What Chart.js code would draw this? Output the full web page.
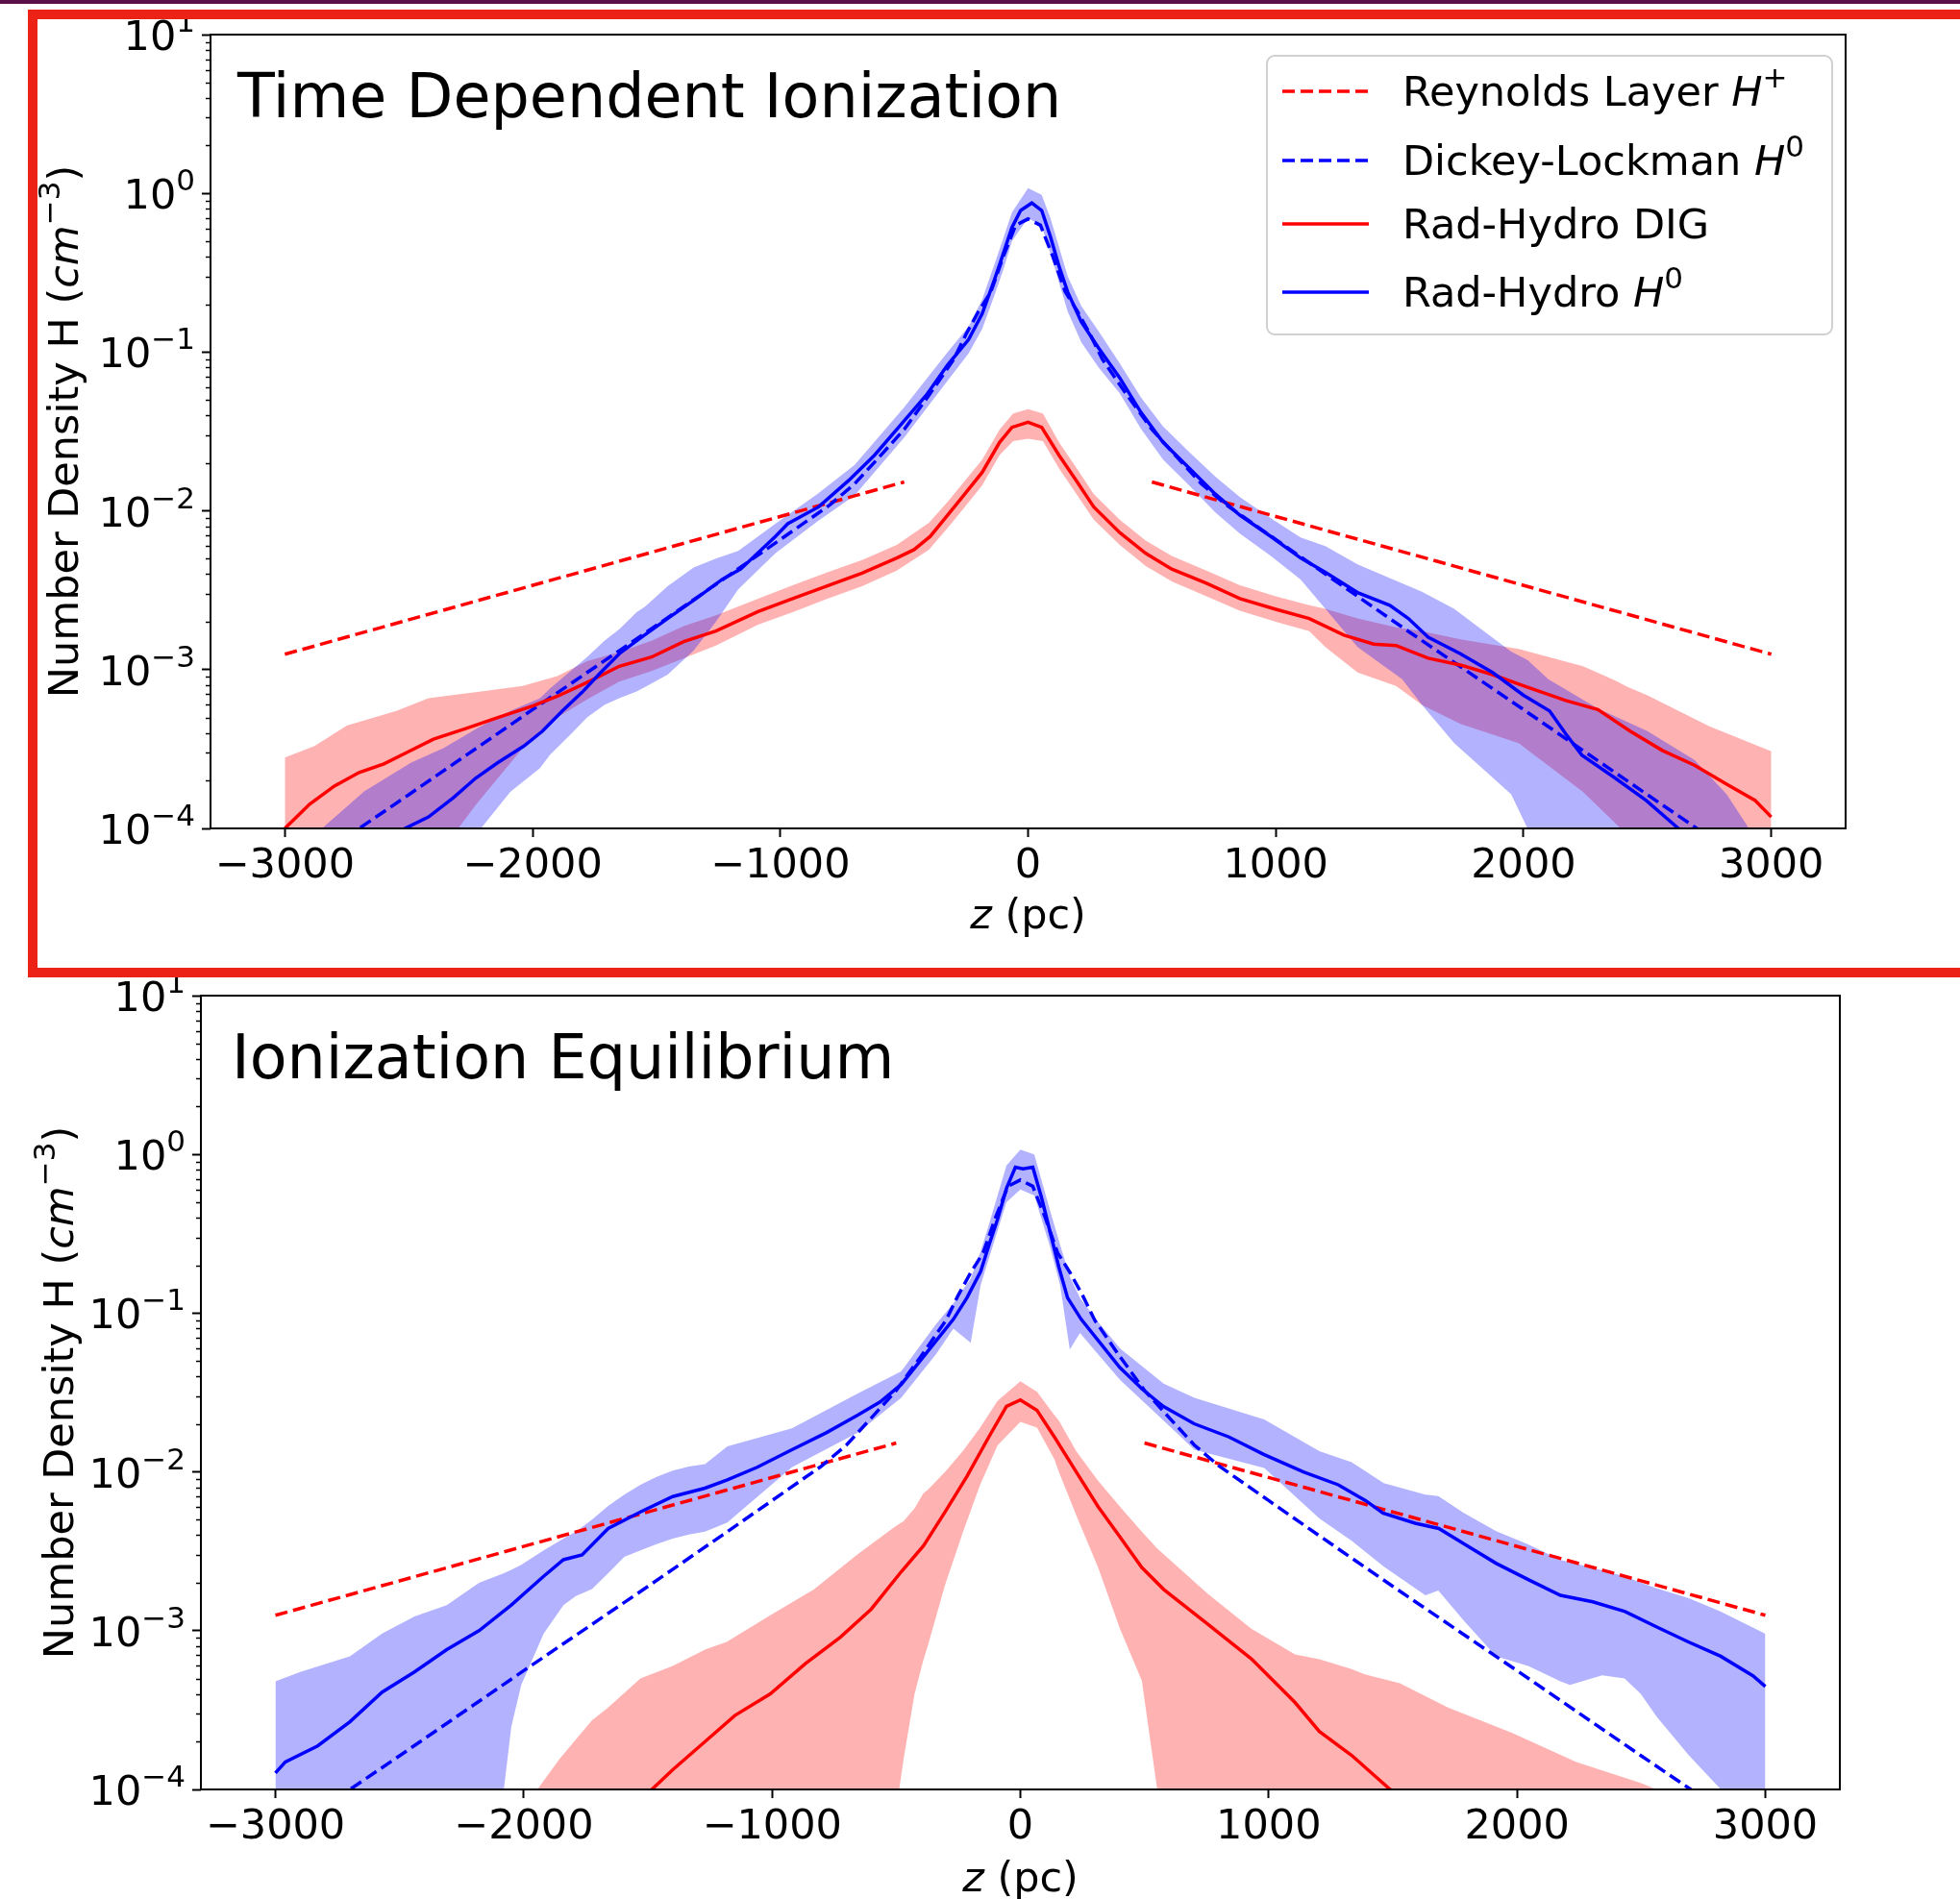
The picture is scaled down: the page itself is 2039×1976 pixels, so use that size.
<!DOCTYPE html>
<html lang="en">
<head>
<meta charset="UTF-8">
<title>Number Density H profiles</title>
<script src="https://cdn.jsdelivr.net/npm/chart.js"></script>
<style>
    html, body {
        margin: 0;
        padding: 0;
        background: #fff;
        overflow: hidden;
    }
    body {
        position: relative;
        width: 2039px;
        height: 1976px;
    }
    canvas {
        position: absolute;
        left: 0;
    }
    #tdChart { top: 0; }
    #ieChart { top: 1000px; }
    .top-bar {
        position: absolute;
        left: 0;
        top: 0;
        width: 2039px;
        height: 4px;
        background: #5a1147;
    }
    .highlight {
        position: absolute;
        left: 29px;
        top: 10px;
        width: 2100px;
        height: 987px;
        border: 10px solid #ec2216;
    }
</style>
</head>
<body>
<canvas id="tdChart" width="2039" height="1000"></canvas>
<canvas id="ieChart" width="2039" height="976"></canvas>
<div class="top-bar"></div>
<div class="highlight"></div>
<script>
Chart.defaults.font.family = '"DejaVu Sans", sans-serif';

// axis ticks
const xTicks = [-3000, -2000, -1000, 0, 1000, 2000, 3000];
const yTicks = [1e-4, 1e-3, 1e-2, 1e-1, 1, 10];
const yTickSup = ['\u22124', '\u22123', '\u22122', '\u22121', '0', '1'];

// reference profiles (same in both panels)
const reyLeftZ = [-3000, -500];
const reyLeft = [1.25e-3, 0.0152];
const reyRightZ = [500, 3000];
const reyRight = [0.0152, 1.25e-3];

const dlZ = [-3000, -2500, -2000, -1500, -1200, -1000, -800, -700, -600, -500, -400, -300, -250, -200, -150, -100, -50,
    0, 50, 100, 150, 200, 250, 300, 400, 500, 600, 700, 800, 1000, 1200, 1500, 2000, 2500, 3000];
const dl = [4.8e-5, 1.63e-4, 5.6e-4, 1.9e-3, 4.0e-3, 6.6e-3, 0.0109, 0.0148, 0.0219, 0.0326, 0.0535, 0.09, 0.13, 0.18, 0.24, 0.40, 0.63,
    0.69, 0.63, 0.40, 0.24, 0.18, 0.13, 0.09, 0.0535, 0.0326, 0.0219, 0.0148, 0.0109, 6.6e-3, 4.0e-3, 1.9e-3, 5.6e-4, 1.63e-4, 4.8e-5];

// ---- Time Dependent Ionization ----
const tdRedZ = [-3000, -2900, -2800, -2700, -2600, -2500, -2400, -2270, -2140, -2000, -1900, -1780, -1650, -1520, -1390,
    -1260, -1090, -950, -810, -670, -530, -460, -395, -325, -255, -185, -115, -65, 0, 55, 125, 195, 265, 370, 475,
    580, 720, 855, 1000, 1135, 1275, 1395, 1485, 1615, 1745, 1875, 2000, 2170, 2300, 2430, 2560, 2690, 2820, 2935, 3000];
const tdRed = [1.0e-4, 1.42e-4, 1.85e-4, 2.25e-4, 2.55e-4, 3.05e-4, 3.65e-4, 4.25e-4, 5.0e-4, 5.9e-4, 6.8e-4, 8.3e-4, 1.05e-3, 1.2e-3, 1.5e-3,
    1.75e-3, 2.32e-3, 2.8e-3, 3.37e-3, 4.06e-3, 5.05e-3, 5.7e-3, 6.9e-3, 9.4e-3, 0.0128, 0.0175, 0.027, 0.0336, 0.0362, 0.0336, 0.0224, 0.0155, 0.0106, 7.3e-3, 5.4e-3,
    4.3e-3, 3.5e-3, 2.8e-3, 2.4e-3, 2.1e-3, 1.65e-3, 1.45e-3, 1.42e-3, 1.18e-3, 1.07e-3, 9.3e-4, 7.9e-4, 6.4e-4, 5.6e-4, 4.1e-4, 3.1e-4, 2.5e-4, 1.9e-4, 1.5e-4, 1.18e-4];

const tdRedBandZ = [-3000, -2880, -2750, -2550, -2420, -2300, -2230, -2040, -1900, -1780, -1650, -1520, -1390, -1260, -1090,
    -950, -810, -670, -530, -400, -325, -255, -185, -115, -60, 0, 60, 125, 195, 265, 370, 475, 580, 720, 855,
    1000, 1135, 1200, 1330, 1485, 1590, 1745, 1980, 2240, 2365, 2420, 2500, 2750, 3000];
const tdRedHi = [2.8e-4, 3.3e-4, 4.45e-4, 5.5e-4, 6.6e-4, 7.0e-4, 7.2e-4, 7.9e-4, 9.1e-4, 1.13e-3, 1.29e-3, 1.52e-3, 1.88e-3, 2.2e-3, 2.8e-3,
    3.4e-3, 4.1e-3, 4.9e-3, 6.1e-3, 8.4e-3, 0.0114, 0.0155, 0.021, 0.0325, 0.041, 0.0437, 0.041, 0.027, 0.0187, 0.0128, 8.8e-3, 6.5e-3, 5.2e-3, 4.2e-3, 3.4e-3,
    2.9e-3, 2.55e-3, 2.42e-3, 2.1e-3, 1.85e-3, 1.75e-3, 1.55e-3, 1.35e-3, 1.05e-3, 8.6e-4, 7.8e-4, 6.9e-4, 4.4e-4, 3.06e-4];
const tdRedLo = [5e-5, 5e-5, 6e-5, 7e-5, 8.5e-5, 1.0e-4, 1.4e-4, 3.2e-4, 5.0e-4, 6.5e-4, 8.4e-4, 9.8e-4, 1.18e-3, 1.42e-3, 1.92e-3,
    2.3e-3, 2.8e-3, 3.35e-3, 4.2e-3, 5.7e-3, 7.8e-3, 0.0106, 0.0145, 0.0225, 0.0275, 0.0285, 0.0275, 0.0185, 0.0128, 8.8e-3, 6.1e-3, 4.5e-3, 3.6e-3, 2.9e-3, 2.35e-3,
    2.0e-3, 1.75e-3, 1.39e-3, 9.6e-4, 7.9e-4, 6.0e-4, 4.55e-4, 3.45e-4, 1.7e-4, 1.1e-4, 9e-5, 7e-5, 5e-5, 4e-5];

const tdBlueZ = [-3000, -2600, -2515, -2420, -2320, -2230, -2140, -2035, -1960, -1880, -1800, -1725, -1650, -1570, -1455,
    -1340, -1235, -1160, -1020, -970, -845, -725, -620, -500, -410, -325, -240, -185, -135, -100, -65, -30, 15, 55, 90,
    125, 160, 215, 285, 370, 455, 545, 650, 755, 855, 980, 1100, 1200, 1330, 1460, 1535, 1615, 1745, 1875, 2000,
    2105, 2170, 2235, 2365, 2495, 2625, 3000];
const tdBlue = [3e-5, 8e-5, 1.0e-4, 1.18e-4, 1.56e-4, 2.07e-4, 2.6e-4, 3.3e-4, 4.1e-4, 5.5e-4, 7.2e-4, 9.6e-4, 1.26e-3, 1.56e-3, 2.1e-3,
    2.8e-3, 3.7e-3, 4.3e-3, 6.9e-3, 8.3e-3, 0.0106, 0.0155, 0.0224, 0.0369, 0.0537, 0.083, 0.12, 0.175, 0.288, 0.418, 0.61, 0.78, 0.87, 0.78, 0.536,
    0.347, 0.239, 0.155, 0.106, 0.0689, 0.0419, 0.027, 0.0186, 0.0128, 9.4e-3, 6.9e-3, 5.05e-3, 4.1e-3, 3.06e-3, 2.54e-3, 2.1e-3, 1.6e-3, 1.26e-3, 9.6e-4, 6.9e-4,
    5.5e-4, 3.95e-4, 2.9e-4, 2.1e-4, 1.5e-4, 1.0e-4, 4e-5];

const tdBlueBandZ = [-3000, -2850, -2680, -2490, -2360, -2220, -2090, -1970, -1930, -1840, -1780, -1710, -1650, -1580, -1545,
    -1455, -1350, -1260, -1170, -1020, -850, -700, -500, -325, -240, -185, -135, -100, -65, 0, 55, 90, 160, 215, 285,
    370, 455, 545, 650, 755, 855, 980, 1100, 1200, 1330, 1510, 1590, 1720, 1850, 1950, 2016, 2100, 2300, 2500, 2690,
    2820, 2910, 3000];
const tdBlueHi = [5e-5, 1.0e-4, 1.71e-4, 2.6e-4, 3.2e-4, 4.3e-4, 5.5e-4, 6.6e-4, 7.6e-4, 1.0e-3, 1.2e-3, 1.52e-3, 1.8e-3, 2.3e-3, 2.5e-3,
    3.35e-3, 4.4e-3, 5.0e-3, 5.6e-3, 8.3e-3, 0.0128, 0.0195, 0.045, 0.1, 0.145, 0.215, 0.36, 0.52, 0.76, 1.08, 0.98, 0.7, 0.3, 0.195, 0.135,
    0.085, 0.052, 0.034, 0.0235, 0.0165, 0.0122, 9e-3, 6.8e-3, 6.0e-3, 4.6e-3, 3.5e-3, 3.1e-3, 2.42e-3, 1.7e-3, 1.3e-3, 1.15e-3, 8.7e-4, 5.7e-4, 4.1e-4, 2.7e-4,
    1.64e-4, 1.0e-4, 6e-5];
const tdBlueLo = [3e-5, 3e-5, 3e-5, 4e-5, 5e-5, 9.5e-5, 1.7e-4, 2.4e-4, 2.9e-4, 4e-4, 5e-4, 6e-4, 6.6e-4, 7.3e-4, 7.8e-4,
    9.3e-4, 1.32e-3, 2.0e-3, 3.2e-3, 5.4e-3, 8.6e-3, 0.0125, 0.029, 0.066, 0.098, 0.14, 0.23, 0.33, 0.5, 0.7, 0.62, 0.42, 0.18, 0.115, 0.08,
    0.055, 0.033, 0.021, 0.0145, 0.0098, 7.2e-3, 5.2e-3, 3.7e-3, 2.42e-3, 1.39e-3, 8.7e-4, 6.0e-4, 3.44e-4, 2.27e-4, 1.64e-4, 1.0e-4, 7e-5, 4e-5, 3e-5, 3e-5,
    3e-5, 3e-5, 3e-5];

// ---- Ionization Equilibrium ----
const ieRedZ = [-1800, -1484, -1400, -1290, -1150, -1007, -866, -725, -600, -480, -390, -300, -215, -127, -56,
    0, 67, 137, 225, 313, 401, 489, 577, 754, 930, 1106, 1204, 1334, 1489, 1800];
const ieRed = [4.5e-5, 1.0e-4, 1.33e-4, 1.88e-4, 2.92e-4, 4.0e-4, 6.2e-4, 9.1e-4, 1.37e-3, 2.35e-3, 3.43e-3, 5.7e-3, 9.4e-3, 0.0166, 0.0259,
    0.0284, 0.0244, 0.0166, 0.0100, 6.05e-3, 3.89e-3, 2.5e-3, 1.82e-3, 1.1e-3, 6.65e-4, 3.53e-4, 2.32e-4, 1.64e-4, 1.0e-4, 4.5e-5];

const ieRedBandZ = [-2100, -1945, -1855, -1725, -1660, -1530, -1400, -1270, -1183, -1007, -831, -655, -514, -488, -470,
    -426, -391, -373, -303, -232, -162, -92, 0, 67, 137, 155, 225, 313, 401, 489,
    551, 577, 754, 930, 1106, 1204, 1334, 1387, 1528, 1722, 1981, 2239, 2498, 2563, 2700];
const ieRedHi = [5e-5, 1.0e-4, 1.56e-4, 2.73e-4, 3.28e-4, 5.0e-4, 6.0e-4, 7.6e-4, 8.5e-4, 1.25e-3, 1.82e-3, 3.03e-3, 4.41e-3, 4.7e-3, 4.9e-3,
    5.9e-3, 7.31e-3, 7.7e-3, 0.0100, 0.0135, 0.019, 0.028, 0.0373, 0.032, 0.0228, 0.021, 0.0135, 8.8e-3, 6.05e-3, 4.2e-3,
    3.3e-3, 3.03e-3, 1.71e-3, 1.03e-3, 7.08e-4, 6.6e-4, 5.74e-4, 5.3e-4, 4.66e-4, 3.28e-4, 2.27e-4, 1.49e-4, 1.1e-4, 1.0e-4, 7e-5];
const ieRedLo = [4e-5, 4e-5, 4e-5, 4e-5, 4e-5, 4e-5, 4e-5, 4e-5, 4e-5, 4e-5, 4e-5, 4e-5, 4e-5, 1.0e-4, 1.56e-4,
    4.0e-4, 6.5e-4, 8.0e-4, 1.95e-3, 4.14e-3, 8.3e-3, 0.0147, 0.0207, 0.019, 0.012, 0.0100, 5.33e-3, 2.5e-3, 1.03e-3, 4.84e-4,
    1.0e-4, 4e-5, 4e-5, 4e-5, 4e-5, 4e-5, 4e-5, 4e-5, 4e-5, 4e-5, 4e-5, 4e-5, 4e-5, 4e-5, 4e-5];

const ieBlueZ = [-3000, -2960, -2830, -2700, -2570, -2440, -2310, -2180, -2050, -1920, -1840, -1765, -1660, -1530, -1400,
    -1270, -1180, -1060, -920, -780, -655, -565, -480, -410, -340, -270, -215, -160, -127, -92,
    -56, -20, 10, 50, 85, 120, 155, 190, 245, 315, 400, 490, 575, 700, 840,
    980, 1140, 1280, 1390, 1460, 1590, 1685, 1790, 1915, 2045, 2175, 2305, 2435, 2565, 2690, 2820, 2950, 3000];
const ieBlue = [1.27e-4, 1.49e-4, 1.88e-4, 2.67e-4, 4.1e-4, 5.5e-4, 7.6e-4, 1.0e-3, 1.45e-3, 2.2e-3, 2.8e-3, 3.0e-3, 4.4e-3, 5.6e-3, 7.0e-3,
    7.9e-3, 8.9e-3, 0.0107, 0.0138, 0.0177, 0.0228, 0.0276, 0.0355, 0.0486, 0.0667, 0.0914, 0.125, 0.183, 0.267, 0.39,
    0.61, 0.83, 0.81, 0.83, 0.535, 0.323, 0.195, 0.125, 0.0914, 0.0667, 0.0456, 0.0333, 0.0259, 0.0201, 0.0166,
    0.0129, 0.0100, 8.3e-3, 6.6e-3, 5.5e-3, 4.75e-3, 4.4e-3, 3.5e-3, 2.66e-3, 2.1e-3, 1.67e-3, 1.52e-3, 1.32e-3, 1.05e-3, 8.5e-4, 6.9e-4, 5.2e-4, 4.45e-4];

const ieBlueBandZ = [-3000, -2900, -2700, -2570, -2440, -2310, -2180, -2080, -2050, -2010, -1920, -1840, -1790, -1725, -1660,
    -1595, -1530, -1465, -1400, -1335, -1270, -1180, -920, -655, -480, -340, -270, -200, -160, -127,
    -56, 0, 56, 120, 160, 199, 240, 313, 401, 577, 701, 982, 1204, 1334, 1463,
    1631, 1683, 1787, 1916, 2045, 2175, 2213, 2343, 2433, 2498, 2563, 2692, 2821, 3000];
const ieBlueHi = [4.8e-4, 5.5e-4, 6.9e-4, 9.6e-4, 1.23e-3, 1.45e-3, 2.0e-3, 2.3e-3, 2.42e-3, 2.6e-3, 3.2e-3, 3.8e-3, 4.2e-3, 5.0e-3, 6.1e-3,
    7.2e-3, 8.3e-3, 9.3e-3, 0.0102, 0.0108, 0.0112, 0.0145, 0.0188, 0.0312, 0.043, 0.085, 0.115, 0.165, 0.245, 0.36,
    0.85, 1.07, 1.0, 0.44, 0.27, 0.17, 0.125, 0.088, 0.06, 0.036, 0.0293, 0.0214, 0.0135, 0.0115, 8.5e-3,
    7.2e-3, 7.05e-3, 5.5e-3, 4.23e-3, 3.5e-3, 2.79e-3, 2.7e-3, 2.4e-3, 2.2e-3, 2.01e-3, 1.85e-3, 1.6e-3, 1.32e-3, 9.56e-4];
const ieBlueLo = [5e-5, 5e-5, 5e-5, 5e-5, 5e-5, 5e-5, 5e-5, 1.0e-4, 2.48e-4, 4.55e-4, 9.56e-4, 1.45e-3, 1.65e-3, 1.83e-3, 2.3e-3,
    2.92e-3, 3.2e-3, 3.51e-3, 3.8e-3, 4.04e-3, 4.2e-3, 4.8e-3, 0.0107, 0.0177, 0.0293, 0.055, 0.08, 0.065, 0.15, 0.22,
    0.5, 0.6, 0.55, 0.26, 0.15, 0.059, 0.075, 0.055, 0.038, 0.021, 0.0138, 0.0106, 5.1e-3, 3.68e-3, 2.54e-3,
    1.67e-3, 1.79e-3, 1.15e-3, 6.9e-4, 6.0e-4, 4.8e-4, 4.55e-4, 5.23e-4, 5.0e-4, 4.0e-4, 2.86e-4, 1.64e-4, 1.0e-4, 4e-5];

// legend entries (top panel only)
const legendColors = ['#ff0000', '#0000ff', '#ff0000', '#0000ff'];
const legendDashed = [true, true, false, false];
const legendLabels = [
    [{ t: 'Reynolds Layer ' }, { t: 'H', i: true }, { t: '+', sup: true }],
    [{ t: 'Dickey-Lockman ' }, { t: 'H', i: true }, { t: '0', sup: true }],
    [{ t: 'Rad-Hydro DIG' }],
    [{ t: 'Rad-Hydro ' }, { t: 'H', i: true }, { t: '0', sup: true }]
];

const DASH = [13, 6];
const LW = 3.5;

function pts(z, v) {
    return z.map((x, i) => ({ x: x, y: v[i] }));
}

// text with italic / superscript pieces, like matplotlib mathtext
function drawRich(ctx, parts, x, y, size, align) {
    const fontOf = p => (p.i ? 'italic ' : '') + Math.round(p.sup ? size * 0.72 : size) + 'px "DejaVu Sans"';
    let widths = [];
    let total = 0;
    parts.forEach(p => {
        ctx.font = fontOf(p);
        const w = ctx.measureText(p.t).width;
        widths.push(w);
        total += w;
    });
    let cx = align === 'right' ? x - total : align === 'center' ? x - total / 2 : x;
    ctx.textAlign = 'left';
    ctx.textBaseline = 'alphabetic';
    ctx.fillStyle = '#000';
    parts.forEach((p, i) => {
        ctx.font = fontOf(p);
        ctx.fillText(p.t, cx, p.sup ? y - size * 0.44 : y);
        cx += widths[i];
    });
}

function decorations(cfg) {
    return {
        id: 'decor_' + cfg.id,
        afterDraw(chart) {
            const ctx = chart.ctx;
            const a = chart.chartArea;
            const ys = chart.scales.y;
            ctx.save();
            // minor ticks on the log axis
            ctx.strokeStyle = '#000';
            ctx.lineWidth = 1.5;
            for (let k = -4; k <= 0; k++) {
                for (let m = 2; m <= 9; m++) {
                    const py = Math.round(ys.getPixelForValue(m * Math.pow(10, k))) + 0.5;
                    ctx.beginPath();
                    ctx.moveTo(a.left - 5, py);
                    ctx.lineTo(a.left, py);
                    ctx.stroke();
                }
            }
            // decade labels
            yTicks.forEach((v, i) => {
                const py = ys.getPixelForValue(v);
                drawRich(ctx, [{ t: '10' }, { t: yTickSup[i], sup: true }], a.left - 16, py + 16, 43, 'right');
            });
            // frame
            ctx.lineWidth = 2;
            ctx.strokeStyle = '#000';
            ctx.strokeRect(a.left, a.top, a.right - a.left, a.bottom - a.top);
            // axis titles
            drawRich(ctx, [{ t: 'z', i: true }, { t: ' (pc)' }], (a.left + a.right) / 2, cfg.xTitleY, 43, 'center');
            ctx.save();
            ctx.translate(cfg.yTitleX, (a.top + a.bottom) / 2);
            ctx.rotate(-Math.PI / 2);
            drawRich(ctx, [{ t: 'Number Density H (' }, { t: 'cm', i: true }, { t: '\u22123', sup: true }, { t: ')' }], 0, 0, 43, 'center');
            ctx.restore();
            // panel title
            ctx.font = '63.5px "DejaVu Sans"';
            ctx.fillStyle = '#000';
            ctx.textAlign = 'left';
            ctx.textBaseline = 'alphabetic';
            ctx.fillText(cfg.title, cfg.titleX, 122);

            if (cfg.legend) {
                ctx.beginPath();
                ctx.roundRect(1318, 58, 588, 290, 8);
                ctx.fillStyle = 'rgba(255,255,255,0.8)';
                ctx.fill();
                ctx.lineWidth = 2;
                ctx.strokeStyle = '#d0d0d0';
                ctx.stroke();
                const rows = [95, 167, 233, 304];
                rows.forEach((ry, i) => {
                    ctx.beginPath();
                    ctx.setLineDash(legendDashed[i] ? DASH : []);
                    ctx.strokeStyle = legendColors[i];
                    ctx.lineWidth = LW;
                    ctx.moveTo(1334, ry);
                    ctx.lineTo(1424, ry);
                    ctx.stroke();
                    ctx.setLineDash([]);
                    drawRich(ctx, legendLabels[i], 1459, ry + 15, 43, 'left');
                });
            }
            ctx.restore();
        }
    };
}

function makeChart(canvasId, cfg) {
    const ctx = document.getElementById(canvasId).getContext('2d');
    const clear = 'rgba(0,0,0,0)';
    return new Chart(ctx, {
        type: 'line',
        data: {
            datasets: [
                { data: pts(cfg.redBandZ, cfg.redLo), borderColor: clear, borderWidth: 1, fill: false, order: 9 },
                { data: pts(cfg.redBandZ, cfg.redHi), borderColor: clear, borderWidth: 1, fill: '-1', backgroundColor: 'rgba(255,0,0,0.3)', order: 9 },
                { data: pts(cfg.blueBandZ, cfg.blueLo), borderColor: clear, borderWidth: 1, fill: false, order: 8 },
                { data: pts(cfg.blueBandZ, cfg.blueHi), borderColor: clear, borderWidth: 1, fill: '-1', backgroundColor: 'rgba(0,0,255,0.3)', order: 8 },
                { data: pts(reyLeftZ, reyLeft), borderColor: '#ff0000', borderWidth: LW, borderDash: DASH, order: 4 },
                { data: pts(reyRightZ, reyRight), borderColor: '#ff0000', borderWidth: LW, borderDash: DASH, order: 4 },
                { data: pts(dlZ, dl), borderColor: '#0000ff', borderWidth: LW, borderDash: DASH, order: 3 },
                { data: pts(cfg.redZ, cfg.red), borderColor: '#ff0000', borderWidth: LW, order: 2 },
                { data: pts(cfg.blueZ, cfg.blue), borderColor: '#0000ff', borderWidth: LW, order: 1 }
            ]
        },
        options: {
            responsive: false,
            animation: false,
            events: [],
            layout: { padding: { left: 0, top: 36, right: cfg.padRight, bottom: 0 } },
            elements: {
                point: { radius: 0 },
                line: { tension: 0, fill: false }
            },
            plugins: {
                legend: { display: false },
                tooltip: { enabled: false }
            },
            scales: {
                x: {
                    type: 'linear',
                    min: -3300,
                    max: 3300,
                    afterBuildTicks: s => { s.ticks = xTicks.map(v => ({ value: v })); },
                    afterFit: s => { s.height = cfg.xAxisHeight; },
                    border: { display: false },
                    grid: { drawOnChartArea: false, drawTicks: true, tickLength: 9, tickWidth: 2, tickColor: '#000' },
                    ticks: {
                        color: '#000',
                        font: { size: 43 },
                        padding: 5,
                        autoSkip: false,
                        maxRotation: 0,
                        callback: v => v < 0 ? '\u2212' + Math.abs(v) : String(v)
                    }
                },
                y: {
                    type: 'logarithmic',
                    min: 1e-4,
                    max: 10,
                    afterBuildTicks: s => { s.ticks = yTicks.map(v => ({ value: v })); },
                    afterFit: s => { s.width = cfg.yAxisWidth; },
                    border: { display: false },
                    grid: { drawOnChartArea: false, drawTicks: true, tickLength: 9, tickWidth: 2, tickColor: '#000' },
                    ticks: { display: false }
                }
            }
        },
        plugins: [decorations(cfg)]
    });
}

makeChart('tdChart', {
    id: 'td',
    title: 'Time Dependent Ionization',
    titleX: 247,
    legend: true,
    yAxisWidth: 219,
    padRight: 119,
    xAxisHeight: 138,
    xTitleY: 966,
    yTitleX: 81,
    redZ: tdRedZ, red: tdRed,
    redBandZ: tdRedBandZ, redLo: tdRedLo, redHi: tdRedHi,
    blueZ: tdBlueZ, blue: tdBlue,
    blueBandZ: tdBlueBandZ, blueLo: tdBlueLo, blueHi: tdBlueHi
});

makeChart('ieChart', {
    id: 'ie',
    title: 'Ionization Equilibrium',
    titleX: 241,
    legend: false,
    yAxisWidth: 209,
    padRight: 125,
    xAxisHeight: 114,
    xTitleY: 968,
    yTitleX: 76,
    redZ: ieRedZ, red: ieRed,
    redBandZ: ieRedBandZ, redLo: ieRedLo, redHi: ieRedHi,
    blueZ: ieBlueZ, blue: ieBlue,
    blueBandZ: ieBlueBandZ, blueLo: ieBlueLo, blueHi: ieBlueHi
});
</script>
</body>
</html>
